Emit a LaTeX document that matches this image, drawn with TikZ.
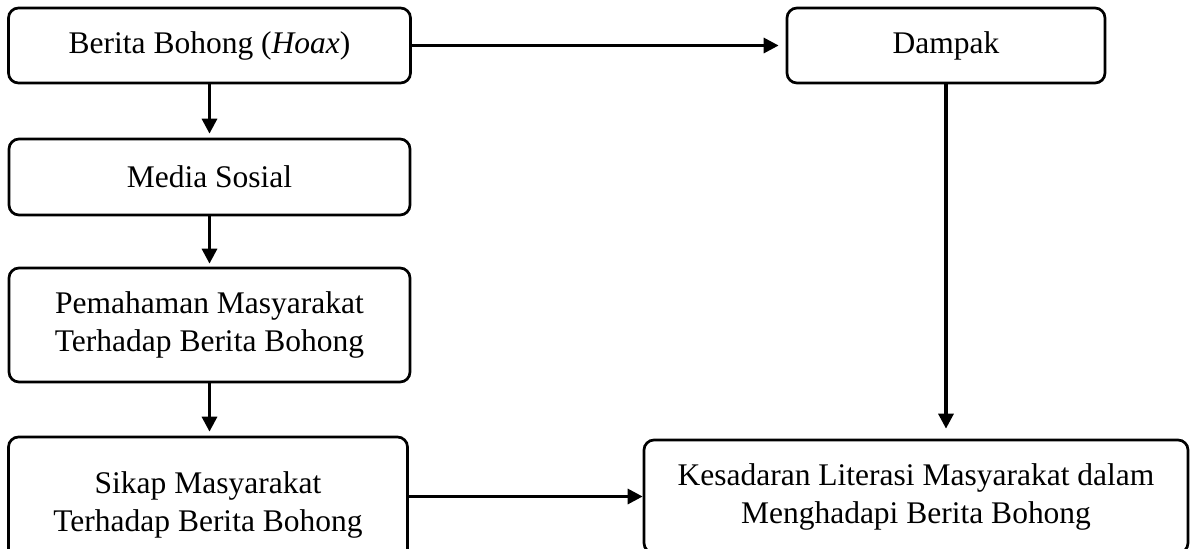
\documentclass[tikz,border=0pt]{standalone}
\usepackage{fontspec}
\setmainfont{Liberation Serif}
\usetikzlibrary{arrows.meta}
\begin{document}
\begin{tikzpicture}[x=0.5pt,y=-0.5pt,
  kotak/.style={draw,line width=1.35pt,rounded corners=5pt,align=center,inner sep=0pt,
    font=\fontsize{15.75pt}{19pt}\selectfont},
  panah/.style={line width=1.6pt,-{Triangle[length=7.5pt,width=7.5pt]}}]

\useasboundingbox (0,0) rectangle (1191,548);
\clip (0,0) rectangle (1191,548);

% kolom kiri
\node[kotak,minimum width=201pt,minimum height=37.5pt] (hoax) at (209.5,45.5) {Berita Bohong (\textit{Hoax})};
\node[kotak,minimum width=200.5pt,minimum height=38pt] (media) at (209.5,177) {Media Sosial};
\node[kotak,minimum width=200.5pt,minimum height=57pt] (paham) at (209.5,325) {Pemahaman Masyarakat\\Terhadap Berita Bohong};
\node[kotak,minimum width=199.5pt,minimum height=67.5pt] (sikap) at (208,504.5) {Sikap Masyarakat\\Terhadap Berita Bohong};

% kolom kanan
\node[kotak,minimum width=159pt,minimum height=37.5pt] (dampak) at (946,45.5) {Dampak};
\node[kotak,minimum width=272pt,minimum height=56.5pt] (sadar) at (916,496.5) {Kesadaran Literasi Masyarakat dalam\\Menghadapi Berita Bohong};

\draw[panah,shorten >=2pt] (hoax) -- (media);
\draw[panah,shorten >=1.5pt] (media) -- (paham);
\draw[panah,shorten >=2pt] (paham.south) -- (paham.south |- sikap.north);
\draw[panah,shorten >=3.5pt] (hoax) -- (dampak);
\draw[panah,shorten >=5pt] (dampak) -- (sadar.north -| dampak.south);
\draw[panah] (sadar.west -| sikap.east) -- (sadar.west);
\end{tikzpicture}
\end{document}
